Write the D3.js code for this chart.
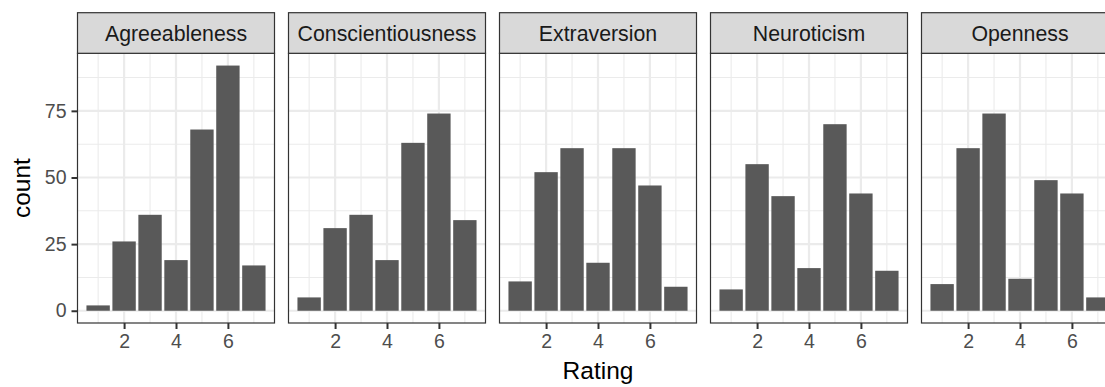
<!DOCTYPE html>
<html>
<head>
<meta charset="utf-8">
<script src="https://cdn.jsdelivr.net/npm/d3@7"></script>
<style>
  html, body { margin: 0; padding: 0; background: #fff; }
  svg { display: block; font-family: "Liberation Sans", Arial, sans-serif; }
</style>
</head>
<body>
<div id="chart"></div>
<script>
// values
const traits = ["Agreeableness", "Conscientiousness", "Extraversion", "Neuroticism", "Openness"];
const ratings = [1, 2, 3, 4, 5, 6, 7];
const agreeableness = [2, 26, 36, 19, 68, 92, 17];
const conscientiousness = [5, 31, 36, 19, 63, 74, 34];
const extraversion = [11, 52, 61, 18, 61, 47, 9];
const neuroticism = [8, 55, 43, 16, 70, 44, 15];
const openness = [10, 61, 74, 12, 49, 44, 5];
const xTicks = [2, 4, 6];
const yTicks = [0, 25, 50, 75];

const counts = [agreeableness, conscientiousness, extraversion, neuroticism, openness];

// dimensions
const width = 1105;
const height = 387;
const stripTop = 12.7;
const stripH = 40.6;
const panelTop = stripTop + stripH;
const panelBottom = 323;
const firstLeft = 77.5;
const panelW = 197;
const step = 211;

// shared scales (ggplot style 5% expansion)
const maxCount = d3.max(counts.flat());
const yPad = maxCount * 0.05;
const y = d3.scaleLinear()
    .domain([-yPad, maxCount + yPad])
    .range([panelBottom, panelTop]);

const barW = 0.9;
const xLo = 1 - barW / 2, xHi = 7 + barW / 2;
const xPad = (xHi - xLo) * 0.05;

const svg = d3.select("#chart")
    .append("svg")
    .attr("width", width)
    .attr("height", height)
    .attr("viewBox", [0, 0, width, height]);

traits.forEach((trait, i) => {
    const left = firstLeft + i * step;
    const x = d3.scaleLinear()
        .domain([xLo - xPad, xHi + xPad])
        .range([left, left + panelW]);

    const g = svg.append("g").attr("class", "panel " + trait);

    // background
    g.append("rect")
        .attr("x", left).attr("y", panelTop)
        .attr("width", panelW).attr("height", panelBottom - panelTop)
        .attr("fill", "#fff");

    // minor grid
    const yMinor = yTicks.map(t => t + 12.5).filter(t => y(t) > panelTop);
    g.selectAll(".ymin").data(yMinor).join("line")
        .attr("x1", left).attr("x2", left + panelW)
        .attr("y1", d => y(d)).attr("y2", d => y(d))
        .attr("stroke", "#ebebeb").attr("stroke-width", 1.1);
    g.selectAll(".xmin").data(ratings.filter(r => r % 2 == 1)).join("line")
        .attr("x1", d => x(d)).attr("x2", d => x(d))
        .attr("y1", panelTop).attr("y2", panelBottom)
        .attr("stroke", "#ebebeb").attr("stroke-width", 1.1);

    // major grid
    g.selectAll(".ymaj").data(yTicks).join("line")
        .attr("x1", left).attr("x2", left + panelW)
        .attr("y1", d => y(d)).attr("y2", d => y(d))
        .attr("stroke", "#ebebeb").attr("stroke-width", 2.2);
    g.selectAll(".xmaj").data(xTicks).join("line")
        .attr("x1", d => x(d)).attr("x2", d => x(d))
        .attr("y1", panelTop).attr("y2", panelBottom)
        .attr("stroke", "#ebebeb").attr("stroke-width", 2.2);

    // bars
    g.selectAll(".bar").data(ratings.map((r, j) => ({ r: r, n: counts[i][j] }))).join("rect")
        .attr("x", d => x(d.r - barW / 2))
        .attr("width", d => x(d.r + barW / 2) - x(d.r - barW / 2))
        .attr("y", d => y(d.n))
        .attr("height", d => y(0) - y(d.n))
        .attr("fill", "#595959");

    // panel border
    g.append("rect")
        .attr("x", left).attr("y", panelTop)
        .attr("width", panelW).attr("height", panelBottom - panelTop)
        .attr("fill", "none").attr("stroke", "#333333").attr("stroke-width", 1.2);

    // strip
    g.append("rect")
        .attr("x", left).attr("y", stripTop)
        .attr("width", panelW).attr("height", stripH)
        .attr("fill", "#d9d9d9").attr("stroke", "#333333").attr("stroke-width", 1.2);
    g.append("text")
        .attr("x", left + panelW / 2)
        .attr("y", stripTop + stripH / 2)
        .attr("dy", "0.36em")
        .attr("text-anchor", "middle")
        .attr("font-size", 21.3)
        .attr("fill", "#1a1a1a")
        .text(trait);

    // x axis
    const xAxis = g.append("g")
        .attr("transform", `translate(0,${panelBottom})`)
        .call(d3.axisBottom(x).tickValues(xTicks).tickSize(6).tickPadding(5).tickFormat(d3.format("d")));
    xAxis.select(".domain").remove();
    xAxis.selectAll(".tick line").attr("stroke", "#333333").attr("stroke-width", 2);
    xAxis.selectAll(".tick text").attr("fill", "#4d4d4d").attr("font-size", 19.5)
        .attr("font-family", "Liberation Sans, Arial, sans-serif");

    if (i == 0) {
        const yAxis = g.append("g")
            .attr("transform", `translate(${left},0)`)
            .call(d3.axisLeft(y).tickValues(yTicks).tickSize(6).tickPadding(5));
        yAxis.select(".domain").remove();
        yAxis.selectAll(".tick line").attr("stroke", "#333333").attr("stroke-width", 2);
        yAxis.selectAll(".tick text").attr("fill", "#4d4d4d").attr("font-size", 19.5)
            .attr("font-family", "Liberation Sans, Arial, sans-serif");
    }
});

// axis titles
svg.append("text")
    .attr("x", firstLeft + (4 * step + panelW) / 2)
    .attr("y", 379)
    .attr("text-anchor", "middle")
    .attr("font-size", 24.5)
    .attr("fill", "#000")
    .text("Rating");

svg.append("text")
    .attr("transform", `translate(30,${(panelTop + panelBottom) / 2}) rotate(-90)`)
    .attr("text-anchor", "middle")
    .attr("font-size", 24.5)
    .attr("fill", "#000")
    .text("count");
</script>
</body>
</html>
